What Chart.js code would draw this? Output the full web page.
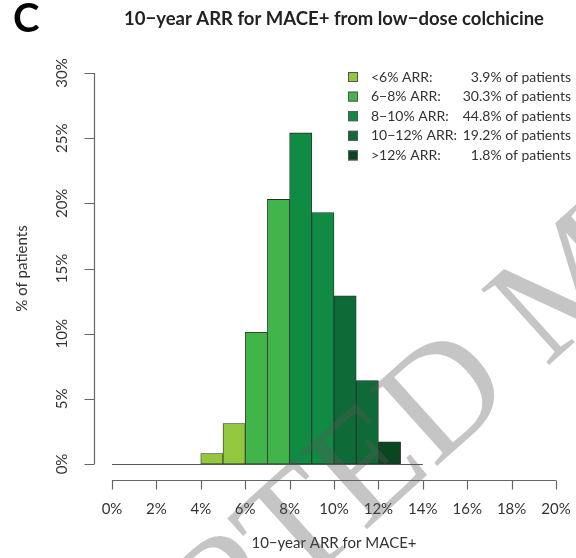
<!DOCTYPE html>
<html><head><meta charset="utf-8">
<script src="https://cdn.jsdelivr.net/npm/chart.js@4.4.1/dist/chart.umd.min.js"></script>
<style>html,body{margin:0;padding:0;background:#fff}canvas{display:block}</style>
</head><body>
<canvas id="cv" width="576" height="558"></canvas>
<script>
// histogram bins (left edge, in % ARR) and share of patients per bin
var binStart=[0,1,2,3,4,5,6,7,8,9,10,11,12,13];
var binWidth=1;
var pctPatients=[0,0,0,0,0.8,3.1,10.1,20.3,25.4,19.3,12.9,6.4,1.7,0];
var binGroup=[0,0,0,0,0,0,1,1,2,2,3,3,4,4];
var xTicks=[0,2,4,6,8,10,12,14,16,18,20];
var yTicks=[0,5,10,15,20,25,30];
var groupLabels=['<6% ARR:','6\u22128% ARR:','8\u221210% ARR:','10\u221212% ARR:','>12% ARR:'];
var groupShares=['3.9% of patients','30.3% of patients','44.8% of patients','19.2% of patients','1.8% of patients'];
var groupColors=['#93c83e','#41b54a','#108b44','#0e6a36','#0a4621'];
var FONT='Lato, "DejaVu Sans", sans-serif';

var rStyle={id:'rStyle',
	beforeDatasetsDraw:function(ch){var ctx=ch.ctx,x=ch.scales.x,y=ch.scales.y;
		// zero-height bins show as a flat line under the histogram
		ctx.save();ctx.strokeStyle='#555';ctx.lineWidth=1.2;ctx.beginPath();
		var y0=Math.round(y.getPixelForValue(0))+0.5;
		ctx.moveTo(x.getPixelForValue(binStart[0]),y0);
		ctx.lineTo(x.getPixelForValue(binStart[binStart.length-1]+binWidth),y0);ctx.stroke();ctx.restore();
	},
	afterDraw:function(ch){var ctx=ch.ctx,x=ch.scales.x,y=ch.scales.y,a=ch.chartArea;var i;
		ctx.save();ctx.strokeStyle='#666';ctx.lineWidth=1.2;ctx.fillStyle='#333';
		/* x axis, detached below the plot */
		var ax=a.bottom+16.5;ctx.beginPath();
		ctx.moveTo(x.getPixelForValue(xTicks[0]),ax);ctx.lineTo(x.getPixelForValue(xTicks[xTicks.length-1]),ax);
		for(i=0;i<xTicks.length;i++){let px=Math.round(x.getPixelForValue(xTicks[i]))+0.5;ctx.moveTo(px,ax);ctx.lineTo(px,ax+9);}
		ctx.stroke();
		ctx.font='15px '+FONT;ctx.textAlign='center';ctx.textBaseline='middle';
		for(i=0;i<xTicks.length;i++){ctx.fillText(xTicks[i]+'%',x.getPixelForValue(xTicks[i]),a.bottom+45);}
		ctx.fillText('10\u2212year ARR for MACE+',(a.left+a.right)/2,a.bottom+79);
		/* y axis, detached left of the plot */
		var ay=a.left-17.5;ctx.beginPath();
		ctx.moveTo(ay,y.getPixelForValue(yTicks[0]));ctx.lineTo(ay,y.getPixelForValue(yTicks[yTicks.length-1]));
		for(i=0;i<yTicks.length;i++){let py=Math.round(y.getPixelForValue(yTicks[i]))+0.5;ctx.moveTo(ay,py);ctx.lineTo(ay-10,py);}
		ctx.stroke();
		for(i=0;i<yTicks.length;i++){ctx.save();ctx.translate(a.left-50,y.getPixelForValue(yTicks[i]));ctx.rotate(-Math.PI/2);
			ctx.fillText(yTicks[i]+'%',0,0);ctx.restore();}
		ctx.save();ctx.translate(22,(a.top+a.bottom)/2);ctx.rotate(-Math.PI/2);ctx.fillText('% of patients',0,0);ctx.restore();
		/* titles */
		ctx.fillStyle='#222';ctx.font='bold 18.5px '+FONT;ctx.fillText('10\u2212year ARR for MACE+ from low\u2212dose colchicine',(a.left+a.right)/2,19);
		ctx.fillStyle='#000';ctx.font='bold 40px '+FONT;ctx.textAlign='left';ctx.fillText('C',13,19);
		/* legend */
		ctx.font='14px '+FONT;ctx.fillStyle='#333';
		for(i=0;i<groupLabels.length;i++){let ly=77+i*19.6;
			ctx.fillStyle=groupColors[i];ctx.fillRect(348,ly-5,10,10);ctx.strokeStyle='#555';ctx.lineWidth=1;ctx.strokeRect(348.5,ly-4.5,9,9);
			ctx.fillStyle='#333';ctx.textAlign='left';ctx.fillText(groupLabels[i],371,ly);
			ctx.textAlign='right';ctx.fillText(groupShares[i],571,ly);}
		ctx.restore();
		/* journal watermark */
		ctx.save();ctx.fillStyle='rgba(90,90,90,0.35)';ctx.font='155px "Liberation Serif", serif';
		ctx.translate(517,394);ctx.rotate(-42*Math.PI/180);ctx.textBaseline='alphabetic';
		ctx.textAlign='right';ctx.fillText('ACCEPTED',0,0);ctx.textAlign='left';ctx.fillText(' MANUSCRIPT',0,0);
		ctx.restore();
	}
};

new Chart(document.getElementById('cv'),{
	type:'bar',
	data:{datasets:[{
		data:binStart.map(function(s,i){return {x:s+binWidth/2,y:pctPatients[i]};}),
		backgroundColor:binStart.map(function(s,i){return groupColors[binGroup[i]];}),
		borderColor:'#2a2a2a',borderWidth:0.8,borderSkipped:false,
		barPercentage:1,categoryPercentage:1}]},
	options:{responsive:false,animation:false,
		layout:{padding:{left:112,right:20,top:73,bottom:94}},
		plugins:{legend:{display:false},tooltip:{enabled:false}},
		scales:{
			x:{type:'linear',min:0,max:20,offset:false,display:false},
			y:{type:'linear',min:0,max:30,display:false}}},
	plugins:[rStyle]
});
</script>
</body></html>
